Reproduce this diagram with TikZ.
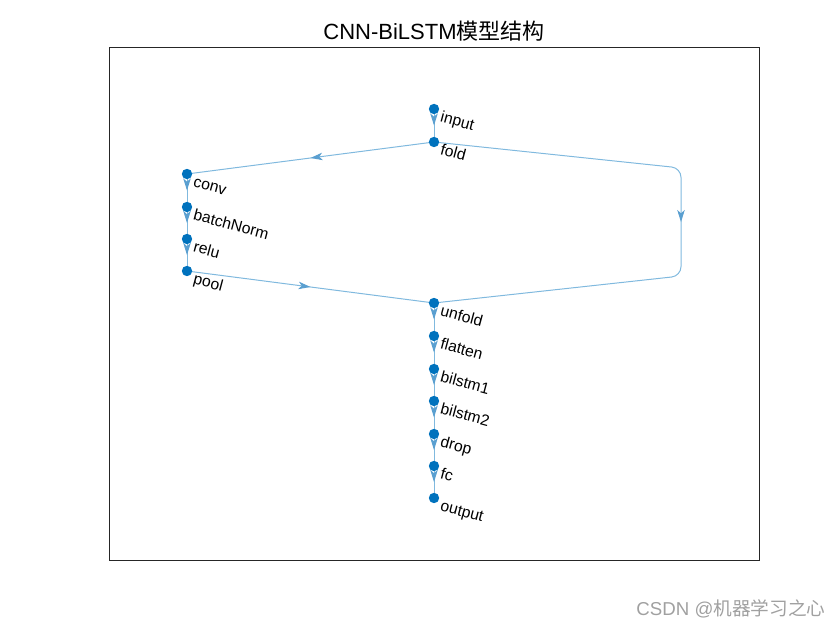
\documentclass[tikz,border=0pt]{standalone}
\usepackage{fontspec}
\setmainfont{Liberation Sans}
\newfontfamily\cjk{Noto Sans CJK SC}
\usetikzlibrary{positioning,backgrounds,arrows.meta,decorations.markings,calc}
\definecolor{nodeBlue}{HTML}{0072BD}
\definecolor{edgeBlue}{HTML}{80B9DE}
\definecolor{tipBlue}{HTML}{5A9FD0}
\definecolor{axisInk}{HTML}{262626}
\definecolor{markGrey}{HTML}{A0A0A0}

\begin{document}
\begin{tikzpicture}[
  x=0.75pt, y=-0.75pt,
  every node/.style={text=black},
  vert/.style={circle, fill=nodeBlue, inner sep=0pt, minimum size=7.8pt},
  tag/.style={font=\fontsize{11.8}{14}\selectfont, rotate=-15, anchor=north west,
              inner sep=0pt, text height=0.72em, text depth=0.22em},
  edge/.style={draw=edgeBlue, line width=0.75pt,
               postaction={decorate},
               decoration={markings, mark=at position 0.5 with
                 {\arrow[tipBlue]{Stealth[length=9pt,width=5.6pt,inset=2.4pt]}}}},
  title/.style={font=\fontsize{16.5}{19}\selectfont},
  wmark/.style={font=\fontsize{14}{16}\selectfont, text=markGrey},
]
\useasboundingbox (0,0) rectangle (840,630);

% ---------------- AXES + TITLE ----------------
\draw[axisInk, line width=0.6pt] (109,47) rectangle (759,560);
\node[title] (TITLE) at (434,31) {CNN-BiLSTM{\cjk 模型结构}};

% ---------------- LAYERS (absolute grid) ----------------
\node[vert] (INPUT)   at (434,109) {};
\node[vert] (FOLD)    at (434,142) {};
\node[vert] (CONV)    at (187,174) {};
\node[vert] (BN)      at (187,207) {};
\node[vert] (RELU)    at (187,239) {};
\node[vert] (POOL)    at (187,271) {};
\node[vert] (UNFOLD)  at (434,303) {};
\node[vert] (FLAT)    at (434,336) {};
\node[vert] (BILSTM1) at (434,369) {};
\node[vert] (BILSTM2) at (434,401) {};
\node[vert] (DROP)    at (434,434) {};
\node[vert] (FC)      at (434,466) {};
\node[vert] (OUTPUT)  at (434,498) {};

\coordinate (bendTop) at (681,168);
\coordinate (bendBot) at (681,276);

% ---------------- LAYER NAMES ----------------
\node[tag] (INPUTtxt)   at ($(INPUT)+(8,3)$)   {input};
\node[tag] (FOLDtxt)    at ($(FOLD)+(8,3)$)    {fold};
\node[tag] (CONVtxt)    at ($(CONV)+(8,3)$)    {conv};
\node[tag] (BNtxt)      at ($(BN)+(8,3)$)      {batchNorm};
\node[tag] (RELUtxt)    at ($(RELU)+(8,3)$)    {relu};
\node[tag] (POOLtxt)    at ($(POOL)+(8,3)$)    {pool};
\node[tag] (UNFOLDtxt)  at ($(UNFOLD)+(8,3)$)  {unfold};
\node[tag] (FLATtxt)    at ($(FLAT)+(8,3)$)    {flatten};
\node[tag] (BILSTM1txt) at ($(BILSTM1)+(8,3)$) {bilstm1};
\node[tag] (BILSTM2txt) at ($(BILSTM2)+(8,3)$) {bilstm2};
\node[tag] (DROPtxt)    at ($(DROP)+(8,3)$)    {drop};
\node[tag] (FCtxt)      at ($(FC)+(8,3)$)      {fc};
\node[tag] (OUTPUTtxt)  at ($(OUTPUT)+(8,3)$)  {output};

% ---------------- EDGES (behind the markers) ----------------
\begin{scope}[on background layer]
  \draw[edge] (INPUT.center) -- (FOLD.center);
  \draw[edge] (FOLD.center) -- (CONV.center);
  \draw[edge] (CONV.center) -- (BN.center);
  \draw[edge] (BN.center) -- (RELU.center);
  \draw[edge] (RELU.center) -- (POOL.center);
  \draw[edge] (POOL.center) -- (UNFOLD.center);
  % fold -> unfold round the right side
  \draw[edge, rounded corners=7pt] (FOLD.center) -- (bendTop) -- (bendBot) -- (UNFOLD.center);
  \draw[edge] (UNFOLD.center) -- (FLAT.center);
  \draw[edge] (FLAT.center) -- (BILSTM1.center);
  \draw[edge] (BILSTM1.center) -- (BILSTM2.center);
  \draw[edge] (BILSTM2.center) -- (DROP.center);
  \draw[edge] (DROP.center) -- (FC.center);
  \draw[edge] (FC.center) -- (OUTPUT.center);
\end{scope}

% ---------------- WATERMARK ----------------
\node[wmark] (CREDIT) at (731,609) {CSDN @{\cjk 机器学习之心}};
\end{tikzpicture}
\end{document}
